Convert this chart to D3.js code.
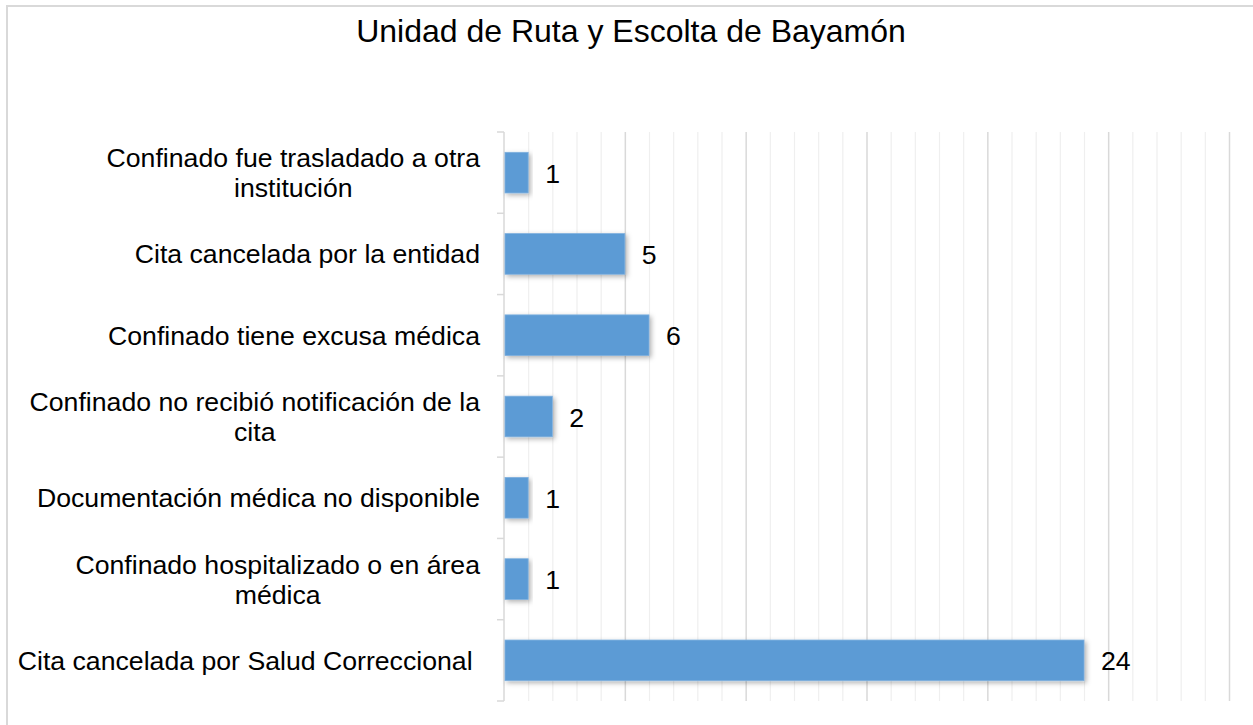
<!DOCTYPE html>
<html lang="es">
<head>
    <meta charset="UTF-8">
    <script src="https://d3js.org/d3.v7.min.js"></script>
    <title>Unidad de Ruta y Escolta de Bayamón</title>
    <style>
        body { margin: 0; background: #fff; }
        svg { display: block; font-family: "Liberation Sans", Arial, sans-serif; }
    </style>
</head>
<body>
<script>
    const width = 1253;
    const height = 725;

    const title = "Unidad de Ruta y Escolta de Bayamón";
    const categories = [
        "Confinado fue trasladado a otra institución",
        "Cita cancelada por la entidad",
        "Confinado tiene excusa médica",
        "Confinado no recibió notificación de la cita",
        "Documentación médica no disponible",
        "Confinado hospitalizado o en área médica",
        "Cita cancelada por Salud Correccional "
    ];
    const values = [1, 5, 6, 2, 1, 1, 24];
    const xMax = 30;
    const majorStep = 5;

    const plot = { left: 504, right: 1229, top: 132, bottom: 701 };

    const svg = d3.select("body").append("svg")
        .attr("width", width)
        .attr("height", height);

    // soft shadow under the bars
    const defs = svg.append("defs");
    const f = defs.append("filter").attr("id", "shadow")
        .attr("x", "-10%").attr("y", "-30%").attr("width", "130%").attr("height", "180%");
    f.append("feDropShadow")
        .attr("dx", 2).attr("dy", 2).attr("stdDeviation", 2.5)
        .attr("flood-color", "#000").attr("flood-opacity", 0.3);

    // chart frame (top and left edges visible)
    svg.append("rect")
        .attr("x", 7).attr("y", 6)
        .attr("width", width + 10).attr("height", height + 10)
        .attr("fill", "none").attr("stroke", "#d9d9d9").attr("stroke-width", 2);

    svg.append("text")
        .attr("x", 631).attr("y", 42)
        .attr("text-anchor", "middle")
        .attr("font-size", "32px")
        .attr("fill", "#000")
        .text(title);

    const x = d3.scaleLinear().domain([0, xMax]).range([plot.left, plot.right]);
    const y = d3.scaleBand().domain(d3.range(categories.length))
        .range([plot.top, plot.bottom]).paddingInner(0.5).paddingOuter(0.25);
    const step = y.step();

    // gridlines: minor every 1, major every 5
    svg.append("g").selectAll("line")
        .data(d3.range(1, xMax + 1))
        .join("line")
        .attr("x1", d => x(d) + 0.5).attr("x2", d => x(d) + 0.5)
        .attr("y1", plot.top).attr("y2", plot.bottom)
        .attr("stroke", d => d % majorStep === 0 ? "#d9d9d9" : "#efefef")
        .attr("stroke-width", d => d % majorStep === 0 ? 1.5 : 1.2);

    // category axis
    svg.append("line")
        .attr("x1", plot.left).attr("x2", plot.left)
        .attr("y1", plot.top).attr("y2", plot.bottom)
        .attr("stroke", "#d9d9d9").attr("stroke-width", 1.5);
    svg.append("g").selectAll("line")
        .data(d3.range(categories.length + 1))
        .join("line")
        .attr("x1", plot.left - 7).attr("x2", plot.left)
        .attr("y1", i => plot.top + i * step).attr("y2", i => plot.top + i * step)
        .attr("stroke", "#d9d9d9").attr("stroke-width", 1.5);

    // bars
    svg.append("g").selectAll("rect")
        .data(values)
        .join("rect")
        .attr("x", x(0) + 1)
        .attr("y", (d, i) => y(i))
        .attr("width", d => x(d) - x(0) - 1)
        .attr("height", y.bandwidth())
        .attr("fill", "#5b9bd5")
        .attr("stroke", "#7fb0de").attr("stroke-width", 0.8)
        .attr("filter", "url(#shadow)");

    // value labels
    svg.append("g").selectAll("text")
        .data(values)
        .join("text")
        .attr("x", d => x(d) + 17)
        .attr("y", (d, i) => y(i) + y.bandwidth() / 2 + 10)
        .attr("font-size", "26.67px")
        .attr("fill", "#000")
        .text(d => d);

    // category labels, wrapped and centered as a block ending at x = 480
    const maxW = 470;
    const labelRight = 480;
    const lineH = 30;
    const labels = svg.append("g").attr("font-size", "26.67px");
    categories.forEach((cat, i) => {
        const t = labels.append("text")
            .attr("xml:space", "preserve")
            .attr("fill", "#000").attr("text-anchor", "middle");
        const words = cat.split(" ");
        const lines = [];
        let cur = words[0];
        const probe = t.append("tspan");
        for (let k = 1; k < words.length; k++) {
            const test = cur + " " + words[k];
            probe.text(test);
            if (probe.node().getComputedTextLength() > maxW) {
                lines.push(cur);
                cur = words[k];
            } else {
                cur = test;
            }
        }
        lines.push(cur);
        let blockW = 0;
        lines.forEach(l => {
            probe.text(l);
            blockW = Math.max(blockW, probe.node().getComputedTextLength());
        });
        probe.remove();
        const cx = labelRight - blockW / 2;
        const cy = y(i) + y.bandwidth() / 2;
        lines.forEach((l, j) => {
            t.append("tspan")
                .attr("x", cx)
                .attr("y", cy + (j - (lines.length - 1) / 2) * lineH + 9.5)
                .text(l);
        });
    });
</script>
</body>
</html>
